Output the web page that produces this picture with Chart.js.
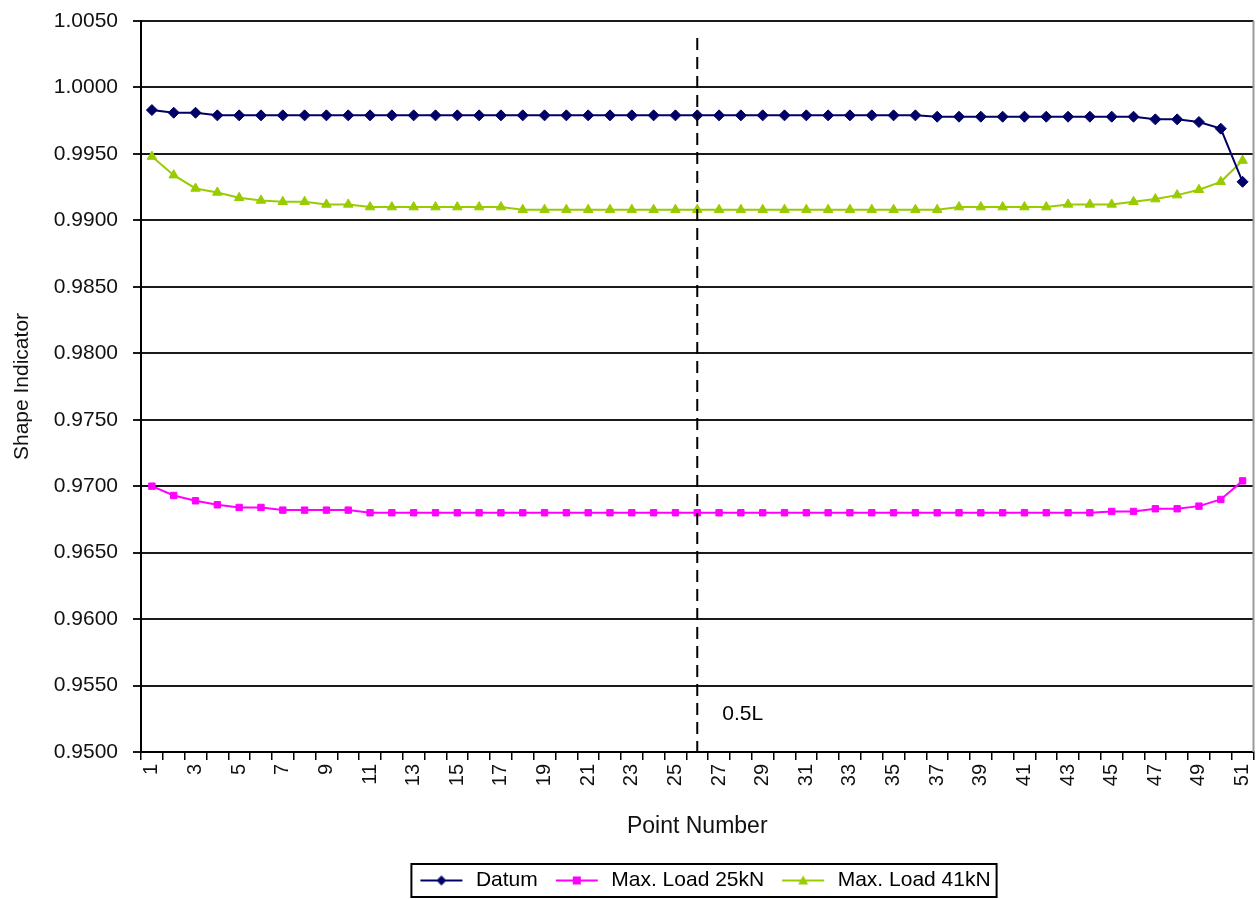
<!DOCTYPE html>
<html>
<head>
<meta charset="utf-8">
<script src="https://cdn.jsdelivr.net/npm/chart.js@4.4.1/dist/chart.umd.min.js"></script>
<style>
  html, body { margin: 0; padding: 0; background: #fff; }
  canvas { display: block; }
</style>
</head>
<body>
<canvas id="shapeChart" width="1260" height="899"></canvas>
<script>
const pointNumbers = ['1','2','3','4','5','6','7','8','9','10','11','12','13','14','15','16','17','18','19','20',
  '21','22','23','24','25','26','27','28','29','30','31','32','33','34','35','36','37','38','39','40',
  '41','42','43','44','45','46','47','48','49','50','51'];

const datum = [0.9983, 0.9981, 0.9981,
  0.9979, 0.9979, 0.9979, 0.9979, 0.9979, 0.9979, 0.9979, 0.9979, 0.9979, 0.9979, 0.9979,
  0.9979, 0.9979, 0.9979, 0.9979, 0.9979, 0.9979, 0.9979, 0.9979, 0.9979, 0.9979, 0.9979,
  0.9979, 0.9979, 0.9979, 0.9979, 0.9979, 0.9979, 0.9979, 0.9979, 0.9979, 0.9979, 0.9979,
  0.9978, 0.9978, 0.9978, 0.9978, 0.9978, 0.9978, 0.9978, 0.9978, 0.9978, 0.9978,
  0.9976, 0.9976, 0.9974, 0.9969, 0.9929];

const load25 = [0.9700, 0.9693, 0.9689, 0.9686, 0.9684, 0.9684,
  0.9682, 0.9682, 0.9682, 0.9682,
  0.9680, 0.9680, 0.9680, 0.9680, 0.9680, 0.9680, 0.9680, 0.9680, 0.9680, 0.9680,
  0.9680, 0.9680, 0.9680, 0.9680, 0.9680, 0.9680, 0.9680, 0.9680, 0.9680, 0.9680,
  0.9680, 0.9680, 0.9680, 0.9680, 0.9680, 0.9680, 0.9680, 0.9680, 0.9680, 0.9680,
  0.9680, 0.9680, 0.9680, 0.9680,
  0.9681, 0.9681, 0.9683, 0.9683, 0.9685, 0.9690, 0.9704];

const load41 = [0.9948, 0.9934, 0.9924, 0.9921, 0.9917, 0.9915, 0.9914, 0.9914, 0.9912, 0.9912,
  0.9910, 0.9910, 0.9910, 0.9910, 0.9910, 0.9910, 0.9910,
  0.9908, 0.9908, 0.9908, 0.9908, 0.9908, 0.9908, 0.9908, 0.9908, 0.9908, 0.9908,
  0.9908, 0.9908, 0.9908, 0.9908, 0.9908, 0.9908, 0.9908, 0.9908, 0.9908, 0.9908,
  0.9910, 0.9910, 0.9910, 0.9910, 0.9910,
  0.9912, 0.9912, 0.9912,
  0.9914, 0.9916, 0.9919, 0.9923, 0.9929, 0.9945];

const seriesNames = ['Datum', 'Max. Load 25kN', 'Max. Load 41kN'];
const seriesColors = ['#000066', '#ff00ff', '#99cc00'];
const seriesShapes = ['rectRot', 'rect', 'triangle'];
const yRange = { min: 0.95, max: 1.005, step: 0.005 };
const midPoint = '26';
const midLabel = '0.5L';

const FONT = "'Liberation Sans', Arial, sans-serif";

// small line + marker picture for the legend (Excel style)
function legendSample(color, shape) {
  const c = document.createElement('canvas');
  c.width = 44; c.height = 14;
  const g = c.getContext('2d');
  g.strokeStyle = color; g.lineWidth = 2;
  g.beginPath(); g.moveTo(1, 7); g.lineTo(43, 7); g.stroke();
  g.fillStyle = color;
  g.beginPath();
  if (shape === 'rectRot') { g.moveTo(22, 2); g.lineTo(27, 7); g.lineTo(22, 12); g.lineTo(17, 7); }
  else if (shape === 'rect') { g.rect(18, 3, 8, 8); }
  else { g.moveTo(22, 2); g.lineTo(27, 11); g.lineTo(17, 11); }
  g.closePath(); g.fill();
  return c;
}
const samples = seriesColors.map((c, i) => legendSample(c, seriesShapes[i]));

const extras = {
  id: 'extras',
  afterLayout(chart) {
    // legend box sits right of centre in the original
    chart.legend.left += 77;
    chart.legend.right += 77;
    chart.legend.top += 2;
    chart.legend.bottom += 2;
  },
  afterDatasetsDraw(chart) {
    const { ctx, chartArea } = chart;
    const x = chart.scales.x.getPixelForValue(pointNumbers.indexOf(midPoint));
    ctx.save();
    // right edge of the plot area
    ctx.strokeStyle = '#9a9a9a';
    ctx.lineWidth = 2;
    ctx.beginPath();
    ctx.moveTo(chartArea.right, chartArea.top);
    ctx.lineTo(chartArea.right, chartArea.bottom);
    ctx.stroke();
    // 0.5L dashed marker
    ctx.strokeStyle = '#000';
    ctx.setLineDash([12, 7]);
    ctx.beginPath();
    ctx.moveTo(x, chartArea.top + 17);
    ctx.lineTo(x, chartArea.bottom);
    ctx.stroke();
    ctx.setLineDash([]);
    ctx.fillStyle = '#000';
    ctx.font = '21px ' + FONT;
    ctx.textBaseline = 'middle';
    ctx.fillText(midLabel, x + 25, chartArea.bottom - 38);
    ctx.restore();
  },
  afterDraw(chart) {
    const boxes = chart.legend.legendHitBoxes;
    if (!boxes || !boxes.length) return;
    const left = Math.min(...boxes.map(b => b.left)) - 6;
    const right = Math.max(...boxes.map(b => b.left + b.width)) + 6;
    const top = Math.min(...boxes.map(b => b.top)) - 6;
    const bottom = Math.max(...boxes.map(b => b.top + b.height)) + 6;
    const ctx = chart.ctx;
    ctx.save();
    ctx.strokeStyle = '#000';
    ctx.lineWidth = 2;
    ctx.strokeRect(left, top, right - left, bottom - top);
    ctx.restore();
  }
};

const ctx = document.getElementById('shapeChart').getContext('2d');
new Chart(ctx, {
  type: 'line',
  data: {
    labels: pointNumbers,
    datasets: [datum, load25, load41].map((d, i) => ({
      label: seriesNames[i],
      data: d,
      borderColor: seriesColors[i],
      backgroundColor: seriesColors[i],
      borderWidth: 2,
      pointStyle: seriesShapes[i],
      pointRadius: i === 1 ? 4.5 : 5.5,
      pointBorderWidth: 1,
      tension: 0,
      fill: false
    }))
  },
  options: {
    responsive: false,
    animation: false,
    devicePixelRatio: 1,
    layout: { padding: { left: 0, right: 6, top: 21, bottom: 0 } },
    plugins: {
      tooltip: { enabled: false },
      legend: {
        position: 'bottom',
        labels: {
          usePointStyle: true,
          pointStyleWidth: 48,
          padding: 15,
          color: '#000',
          font: { family: FONT, size: 21 },
          generateLabels(chart) {
            const items = Chart.defaults.plugins.legend.labels.generateLabels(chart);
            items.forEach((it, i) => { it.pointStyle = samples[i]; });
            return items;
          }
        }
      }
    },
    scales: {
      x: {
        type: 'category',
        offset: true,
        afterFit(scale) {
          scale.height = 101;
          scale.paddingLeft = 0;
          scale.paddingRight = 0;
        },
        grid: { offset: true, drawOnChartArea: false, drawTicks: true, tickLength: 8, color: '#000', lineWidth: 1.5 },
        border: { display: true, color: '#000', width: 2 },
        ticks: {
          autoSkip: false, maxRotation: 90, minRotation: 90, padding: 4,
          color: '#111', font: { family: FONT, size: 20 },
          callback(v, i) { return i % 2 === 0 ? pointNumbers[i] : ''; }
        },
        title: { display: true, text: 'Point Number', color: '#111', font: { family: FONT, size: 23 }, padding: { top: 2, bottom: 13 } }
      },
      y: {
        min: yRange.min, max: yRange.max,
        afterFit(scale) {
          scale.width = 141;
          scale.paddingTop = 10;
          scale.paddingBottom = 10;
        },
        grid: { color: '#1a1a1a', lineWidth: 2, drawTicks: true, tickLength: 8 },
        border: { display: true, color: '#000', width: 2 },
        ticks: {
          stepSize: yRange.step, padding: 15, color: '#111',
          font: { family: FONT, size: 21 },
          callback(v) { return Number(v).toFixed(4); }
        },
        title: { display: true, text: 'Shape Indicator', color: '#111', font: { family: FONT, size: 21 }, padding: { top: 10, bottom: 0 } }
      }
    }
  },
  plugins: [extras]
});
</script>
</body>
</html>
